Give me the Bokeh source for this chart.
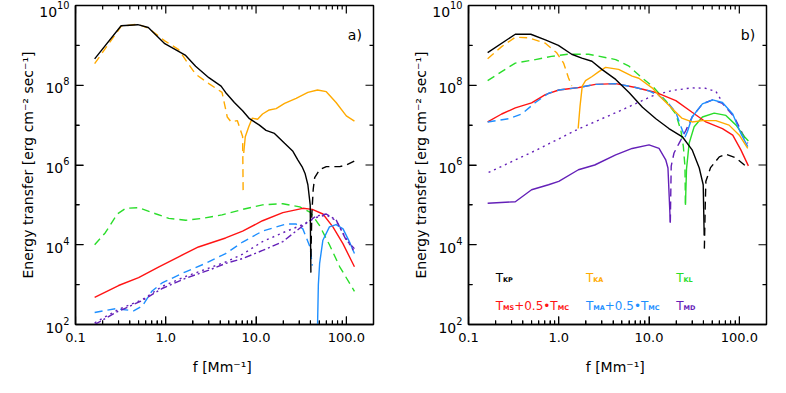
from bokeh.plotting import figure
from bokeh.models import PrintfTickFormatter, LogTickFormatter, FixedTicker, Label
from bokeh.layouts import row
from bokeh.embed import file_html
from bokeh.resources import INLINE

FONT = "DejaVu Sans"
BLACK = "#000000"
ORANGE = "#FFAA00"
GREEN = "#2ADD2A"
RED = "#FF1414"
BLUE = "#1E8FFF"
PURPLE = "#6420B8"

# ---- axes / ticks ----
X_RANGE = (0.1, 200)
Y_RANGE = (1e2, 1e10)
x_major = [0.1, 1.0, 10.0, 100.0]
x_minor = [0.2, 0.3, 0.4, 0.5, 0.6, 0.7, 0.8, 0.9, 2, 3, 4, 5, 6, 7, 8, 9,
           20, 30, 40, 50, 60, 70, 80, 90]
y_major = [1e2, 1e4, 1e6, 1e8, 1e10]
y_minor = [1e3, 1e5, 1e7, 1e9]

# ---- panel a) data ----
a_kp_pos_f = [0.163, 0.32, 0.49, 0.64, 0.975, 1.28, 1.66, 2.14, 3.0, 4.1, 4.6, 5.75, 7.1, 8.45, 10.9, 12.9, 16, 20.7, 25.6, 29, 32.4, 35, 37.5, 39.8, 40.5]
a_kp_pos_e = [4.6e8, 3.1e9, 3.3e9, 2.8e9, 1.1e9, 7.8e8, 5.6e8, 3.0e8, 1.55e8, 9.5e7, 6.6e7, 3.7e7, 2.3e7, 1.45e7, 1.0e7, 7.4e6, 6.2e6, 3.5e6, 2.2e6, 1.35e6, 9e5, 6e5, 3.2e5, 1e5, 2e3]
a_kp_neg_f = [40.5, 41.5, 43, 44.6, 50.6, 60, 84.5, 100, 126]
a_kp_neg_e = [5e3, 6e4, 2.5e5, 4.8e5, 7.6e5, 9.1e5, 9.1e5, 1.0e6, 1.3e6]
a_ka_neg_f = [0.163, 0.32, 0.49, 0.64, 0.975, 1.39, 1.8, 2.14, 3.0, 4.2, 4.8, 5.3, 6.2, 7.1, 7.2]
a_ka_neg_e = [3.5e8, 3.0e9, 3.4e9, 2.7e9, 1.3e9, 7.8e8, 3.3e8, 1.9e8, 1.1e8, 6.6e7, 1.6e7, 1.2e7, 1.3e7, 5.2e6, 1.8e5]
a_ka_pos_f = [7.3, 7.6, 8.3, 9.1, 10.4, 11.8, 14, 16.7, 20.7, 27.8, 37.5, 48, 60, 77, 100, 123]
a_ka_pos_e = [2e6, 5.1e6, 9.1e6, 1.5e7, 1.4e7, 1.9e7, 2.4e7, 2.6e7, 3.5e7, 4.7e7, 6.6e7, 7.6e7, 6.9e7, 3.7e7, 1.7e7, 1.26e7]
a_kl_neg_f = [0.163, 0.214, 0.29, 0.36, 0.5, 0.77, 1.08, 1.66, 2.54, 4.2, 7.1, 11.8, 19.8, 30.5, 40, 50.6, 65, 84.5, 123]
a_kl_neg_e = [1e4, 2e4, 5.9e4, 8.2e4, 8.5e4, 6e4, 4.6e4, 4.1e4, 4.6e4, 5.6e4, 7.7e4, 1e5, 1.07e5, 8.9e4, 6.5e4, 3e4, 1e4, 2.8e3, 6.8e2]
a_ms_f = [0.163, 0.3, 0.5, 0.84, 1.39, 2.3, 4.6, 7.1, 11.8, 19.8, 33, 42, 55, 71, 92, 123]
a_ms_e = [4.8e2, 9.5e2, 1.5e3, 2.8e3, 5e3, 8.8e3, 1.48e4, 2.2e4, 4e4, 6.4e4, 8.2e4, 7.7e4, 5.9e4, 2.8e4, 1.05e4, 2.8e3]
a_ma_neg_f = [0.163, 0.28, 0.44, 0.55, 0.7, 0.91, 1.66, 2.75, 4.6, 7.1, 11.8, 21.5, 27.8, 33, 39.6, 42]
a_ma_neg_e = [2e2, 2.5e2, 2.2e2, 2.9e2, 6.8e2, 1.1e3, 2.1e3, 3.4e3, 6e3, 1.17e4, 2.2e4, 3.3e4, 3.3e4, 2.5e4, 8.8e3, 3e3]
a_ma_pos_f = [47.8, 49, 50.6, 55, 65, 77, 92, 108, 123]
a_ma_pos_e = [60, 1e3, 3.4e3, 1.3e4, 2.8e4, 3.2e4, 2.5e4, 1.2e4, 6e3]
a_md_dot_f = [0.163, 0.3, 0.55, 0.91, 1.66, 3.0, 4.6, 7.1, 11.8, 19.8, 33, 46, 60, 77, 100, 123]
a_md_dot_e = [1.1e2, 2.4e2, 4.2e2, 9e2, 1.6e3, 2.6e3, 3.7e3, 5.8e3, 1.2e4, 2e4, 3.2e4, 4.8e4, 5.6e4, 4e4, 1.4e4, 6.6e3]
a_md_dd_f = [0.163, 0.28, 0.55, 0.91, 1.66, 3.0, 4.6, 7.1, 11.8, 19.8, 33, 46, 60, 77, 100, 123]
a_md_dd_e = [1e2, 2e2, 4e2, 8e2, 1.45e3, 2.3e3, 3.4e3, 4.5e3, 7.2e3, 1.2e4, 3e4, 5.2e4, 5.9e4, 4.2e4, 1.3e4, 8e3]

# ---- panel b) data ----
b_kp_pos_f = [0.163, 0.33, 0.49, 0.71, 0.99, 1.39, 1.8, 2.33, 3.0, 4.27, 6, 8.45, 11.9, 16.6, 23.4, 30, 36, 39.8, 40.8]
b_kp_pos_e = [6.6e8, 1.9e9, 1.9e9, 1.37e9, 1.0e9, 6e8, 4.8e8, 4e8, 2.5e8, 1.4e8, 6.6e7, 2.8e7, 1.45e7, 8.2e6, 5.1e6, 2.4e6, 8.4e5, 3.2e5, 1.7e4]
b_kp_neg_f = [41, 42, 42.6, 48, 60, 71, 92, 114, 126]
b_kp_neg_e = [8e3, 1.2e5, 3.9e5, 8.6e5, 1.6e6, 1.86e6, 1.5e6, 1.0e6, 8.3e5]
b_ka_neg_f = [0.163, 0.233, 0.33, 0.46, 0.71, 0.95, 1.13, 1.28, 1.39]
b_ka_neg_e = [4.6e8, 9.3e8, 1.6e9, 1.55e9, 1.13e9, 6.5e8, 3.6e8, 1.55e8, 9.6e7]
b_ka_pos_f = [1.64, 1.72, 1.82, 1.98, 2.34, 2.78, 3.3, 4.6, 6.5, 7.7, 10.9, 12.9, 18, 23, 30, 39, 55, 77, 100, 124]
b_ka_pos_e = [8.2e6, 3e7, 9.5e7, 1.3e8, 1.66e8, 2.2e8, 2.8e8, 2.5e8, 1.7e8, 1.5e8, 8.5e7, 5.5e7, 2.6e7, 1.5e7, 1.2e7, 1.3e7, 1.3e7, 1e7, 5.6e6, 2.6e6]
b_kl_neg_f = [0.163, 0.233, 0.33, 0.55, 0.83, 1.28, 2.14, 3.55, 4.27, 6, 8.45, 10.9, 15.3, 19.8, 22.5, 24, 25, 25.3]
b_kl_neg_e = [1.3e8, 2.2e8, 3.6e8, 4.4e8, 5.3e8, 6e8, 6e8, 4.8e8, 4.4e8, 3e8, 1.5e8, 9.5e7, 4.1e7, 1.9e7, 7.4e6, 2.9e6, 9e5, 1e5]
b_kl_pos_f = [25.3, 26, 27.8, 31.6, 39, 52.7, 71, 92, 114, 126]
b_kl_pos_e = [1e5, 8e5, 3.5e6, 9.1e6, 1.6e7, 2e7, 1.75e7, 1e7, 5.1e6, 4e6]
b_ms_f = [0.163, 0.233, 0.33, 0.5, 0.71, 1.0, 1.67, 2.55, 4.27, 7.1, 11.9, 19.8, 30, 42.6, 65, 84.5, 104, 126]
b_ms_e = [1.2e7, 1.9e7, 2.7e7, 3.6e7, 5.8e7, 7.6e7, 8.8e7, 1.05e8, 1.1e8, 8.8e7, 6.6e7, 4.1e7, 2.1e7, 1.2e7, 8.2e6, 5.6e6, 2.4e6, 9.5e5]
b_ma_neg_f = [0.163, 0.28, 0.39, 0.55, 0.77, 1.0, 1.67, 2.55, 4.27, 7.1, 10, 12.9, 16.6, 19.8, 22.6, 25]
b_ma_neg_e = [1.2e7, 1.45e7, 1.9e7, 3.7e7, 6.3e7, 7.6e7, 8.8e7, 1.05e8, 1.1e8, 8.8e7, 7.2e7, 5.5e7, 3.4e7, 2.1e7, 9.1e6, 5e6]
b_ma_pos_f = [25, 26.7, 30, 39, 50.6, 65, 84.5, 104, 124]
b_ma_pos_e = [5e6, 7e6, 1.6e7, 3.4e7, 4.3e7, 3.7e7, 1.9e7, 6.2e6, 2.9e6]
b_md_pos_f = [0.163, 0.33, 0.5, 0.77, 1.0, 1.65, 2.5, 4.27, 6.5, 10, 12.9, 15.3, 16.2, 17.2]
b_md_pos_e = [1.1e5, 1.2e5, 2.4e5, 3.2e5, 3.9e5, 7.6e5, 1e6, 1.8e6, 2.6e6, 3.2e6, 2.6e6, 1.35e6, 8.4e5, 3.6e4]
b_md_neg_f = [17.2, 17.6, 18.9, 21.5, 25.6, 30, 39, 50.6, 65, 88, 108, 124]
b_md_neg_e = [3.6e4, 9.4e5, 2e6, 3.5e6, 7.4e6, 1.6e7, 3.4e7, 4.3e7, 3.5e7, 1.6e7, 6.2e6, 3.5e6]
b_dot_f = [0.167, 0.55, 1.67, 4.6, 10.9, 18, 30, 42, 55, 64]
b_dot_e = [6.5e5, 2.3e6, 8.1e6, 2.2e7, 5.4e7, 7.4e7, 8.6e7, 8.4e7, 7.0e7, 4.0e7]

# legend entries (panel b): (parts, colour, column f, row E)
legend_rows = [
    ([("T", 0), ("KP", 1)], BLACK, 0.2, 1.45e3),
    ([("T", 0), ("KA", 1)], ORANGE, 2.0, 1.45e3),
    ([("T", 0), ("KL", 1)], GREEN, 20.0, 1.45e3),
    ([("T", 0), ("MS", 1), ("+0.5\u2022T", 0), ("MC", 1)], RED, 0.2, 2.9e2),
    ([("T", 0), ("MA", 1), ("+0.5\u2022T", 0), ("MC", 1)], BLUE, 2.0, 2.9e2),
    ([("T", 0), ("MD", 1)], PURPLE, 20.0, 2.9e2),
]

W_REG = {"T": 0.611, "+": 0.838, ".": 0.318, "\u2022": 0.59}
W_BOLD = {"K": 0.775, "P": 0.733, "A": 0.774, "L": 0.637, "M": 0.995, "S": 0.72, "C": 0.734, "D": 0.83}
MAIN_SIZE = 12
SUB_SIZE = 6.5


def text_width(s, sub):
    if sub:
        return sum(W_BOLD.get(c, 0.7) for c in s) * SUB_SIZE
    return sum(W_REG.get(c, 0.636) for c in s) * MAIN_SIZE


def style_axis(ax, ticker, fmt, label_size):
    ax.ticker = ticker
    ax.formatter = fmt
    ax.major_tick_in = 8
    ax.major_tick_out = 0
    ax.minor_tick_in = 4
    ax.minor_tick_out = 0
    ax.axis_line_width = 1.5
    ax.major_label_text_font = FONT
    ax.major_label_text_font_size = label_size
    ax.major_label_text_color = "black"
    ax.axis_label_text_font = FONT
    ax.axis_label_text_font_size = "14px"
    ax.axis_label_text_font_style = "normal"
    ax.axis_label_text_color = "black"


def add_ticks(p):
    lo_x, hi_x = X_RANGE
    lo_y, hi_y = Y_RANGE
    kw = dict(angle_units="deg", length_units="screen", line_color=BLACK,
              line_width=1.2, line_dash="solid")
    for ticks, ln in ((x_major, 8), (x_minor, 4)):
        p.ray(x=ticks, y=[lo_y] * len(ticks), length=ln, angle=90, **kw)
        p.ray(x=ticks, y=[hi_y] * len(ticks), length=ln, angle=-90, **kw)
    for ticks, ln in ((y_major, 8), (y_minor, 4)):
        p.ray(x=[lo_x] * len(ticks), y=ticks, length=ln, angle=0, **kw)
        p.ray(x=[hi_x] * len(ticks), y=ticks, length=ln, angle=180, **kw)


def make_panel(tag, series, left, width, right, legend=False):
    p = figure(width=width, height=377, x_axis_type="log", y_axis_type="log",
               x_range=X_RANGE, y_range=Y_RANGE, output_backend="svg",
               toolbar_location=None, min_border_left=left, min_border_right=right,
               min_border_top=5, min_border_bottom=48)
    p.grid.visible = False
    p.outline_line_color = "black"
    p.outline_line_width = 1.5
    style_axis(p.xaxis[0], FixedTicker(ticks=x_major, minor_ticks=x_minor),
               PrintfTickFormatter(format="%.1f"), "13px")
    style_axis(p.yaxis[0], FixedTicker(ticks=y_major, minor_ticks=y_minor),
               LogTickFormatter(), "14px")
    p.xaxis[0].axis_label = "f  [Mm\u207b\u00b9]"
    p.xaxis[0].major_label_standoff = 8
    p.xaxis[0].axis_label_standoff = 14
    p.yaxis[0].axis_label = "Energy transfer [erg cm\u207b\u00b2 sec\u207b\u00b9]"
    p.yaxis[0].major_label_standoff = 6
    p.yaxis[0].axis_label_standoff = 0

    add_ticks(p)

    for f, e, col, dash in series:
        p.line(f, e, line_color=col, line_width=1.4, line_dash=dash)

    p.add_layout(Label(x=104, y=1.8e9, text=tag, text_font=FONT, text_font_size="14px",
                       text_color="black", text_baseline="alphabetic"))

    if legend:
        for parts, col, fx, ey in legend_rows:
            off = 0.0
            for txt, sub in parts:
                p.add_layout(Label(x=fx, y=ey, x_offset=off, y_offset=-2 if sub else 0,
                                   text=txt, text_font=FONT,
                                   text_font_size=f"{SUB_SIZE if sub else MAIN_SIZE}px",
                                   text_font_style="bold" if sub else "normal",
                                   text_color=col, text_baseline="alphabetic",
                                   text_align="left"))
                off += text_width(txt, sub)
    return p


SOLID = "solid"
DASH = "8 5"
DOT = "2 4"
DASHDOT = "7 3 2 3"

series_a = [
    (a_kl_neg_f, a_kl_neg_e, GREEN, DASH),
    (a_ms_f, a_ms_e, RED, SOLID),
    (a_ma_neg_f, a_ma_neg_e, BLUE, DASH),
    (a_ma_pos_f, a_ma_pos_e, BLUE, SOLID),
    (a_md_dot_f, a_md_dot_e, PURPLE, DOT),
    (a_md_dd_f, a_md_dd_e, PURPLE, DASHDOT),
    (a_ka_neg_f, a_ka_neg_e, ORANGE, DASH),
    (a_ka_pos_f, a_ka_pos_e, ORANGE, SOLID),
    (a_kp_neg_f, a_kp_neg_e, BLACK, DASH),
    (a_kp_pos_f, a_kp_pos_e, BLACK, SOLID),
]
series_b = [
    (b_dot_f, b_dot_e, PURPLE, DOT),
    (b_md_pos_f, b_md_pos_e, PURPLE, SOLID),
    (b_md_neg_f, b_md_neg_e, PURPLE, DASH),
    (b_kl_neg_f, b_kl_neg_e, GREEN, DASH),
    (b_kl_pos_f, b_kl_pos_e, GREEN, SOLID),
    (b_ms_f, b_ms_e, RED, SOLID),
    (b_ma_neg_f, b_ma_neg_e, BLUE, DASH),
    (b_ma_pos_f, b_ma_pos_e, BLUE, SOLID),
    (b_ka_neg_f, b_ka_neg_e, ORANGE, DASH),
    (b_ka_pos_f, b_ka_pos_e, ORANGE, SOLID),
    (b_kp_neg_f, b_kp_neg_e, BLACK, DASH),
    (b_kp_pos_f, b_kp_pos_e, BLACK, SOLID),
]

pa = make_panel("a)", series_a, 75, 384, 11)
pb = make_panel("b)", series_b, 84, 386, 4, legend=True)
layout = row(pa, pb)
open("out.html", "w").write(file_html(layout, INLINE))
